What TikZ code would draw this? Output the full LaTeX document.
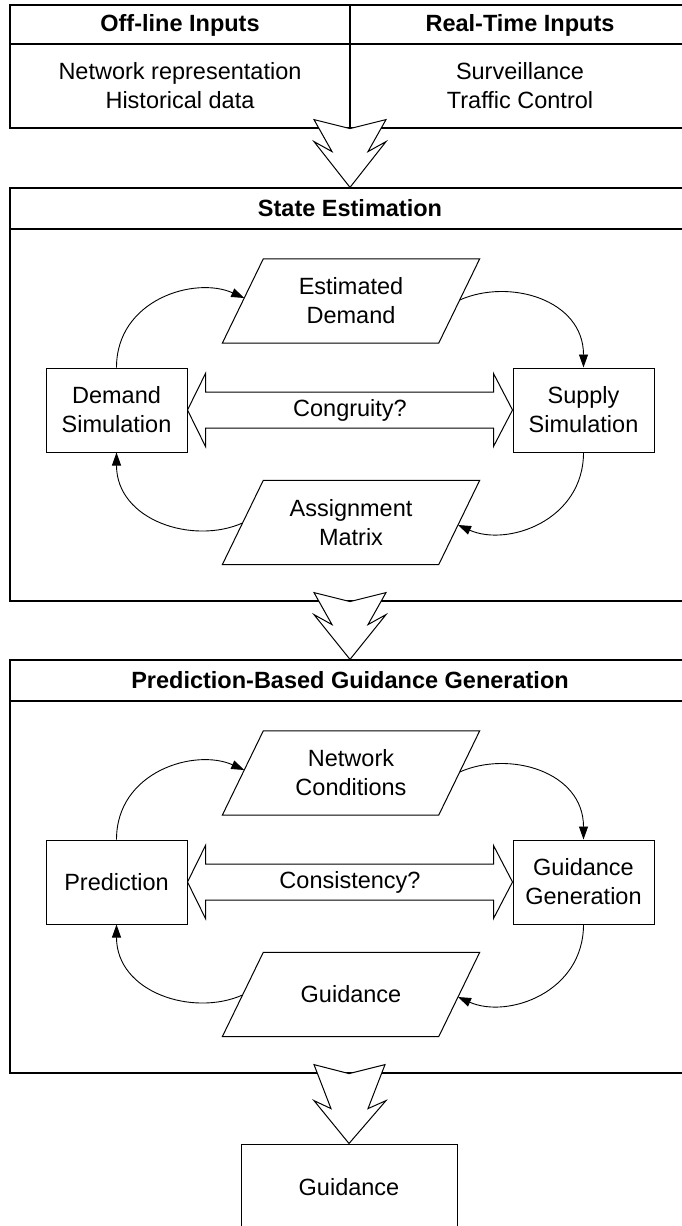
\documentclass[tikz,border=0pt]{standalone}
\usepackage{fontspec}
\setmainfont{Liberation Sans}
\usetikzlibrary{arrows.meta,calc}
\begin{document}
\begin{tikzpicture}[x=1pt,y=-1pt,
 every node/.style={font=\fontsize{23.5}{29}\selectfont, inner sep=0pt, align=center},
 hfont/.style={font=\fontsize{23.5}{29}\selectfont\bfseries},
 frame/.style={draw, line width=1.2pt},
 sepline/.style={line width=2pt},
 proc/.style={draw, line width=1pt, minimum width=141pt, minimum height=84pt},
 databox/.style={minimum width=216pt, minimum height=84pt},
 para/.style={draw, line width=1pt, line join=miter},
 loopar/.style={line width=0.9pt, -{Triangle[length=13pt,width=9pt]}},
 block/.style={draw, fill=white, line width=1pt, line join=miter},
]
\useasboundingbox (0,0) rectangle (681,1226);

% ---------- inputs ----------
\node[frame, minimum width=680pt, minimum height=123pt] (inputs) at (350,66.5) {};
\draw[line width=1.2pt] (inputs.north) -- (inputs.south);
\draw[line width=1.4pt] (10,44) -- (690,44);
\node[hfont] (offh) at (180,25) {Off-line Inputs};
\node[hfont] (rth) at (520,25) {Real-Time Inputs};
\node (offb) at (180,86) {Network representation\\Historical data};
\node (rtb) at (520,86) {Surveillance\\Traffic Control};

% ---------- state estimation ----------
\node[frame, minimum width=680pt, minimum height=413pt] (se) at (350,394.5) {};
\draw[sepline] (10,229) -- (690,229);
\node[hfont] (seh) at (350,208) {State Estimation};
\node[proc] (dem) at (116.5,410) {Demand\\Simulation};
\node[proc] (sup) at (583.5,410) {Supply\\Simulation};
\node[databox] (ed) at (351,301) {Estimated\\Demand};
\node[databox] (am) at (351,522.5) {Assignment\\Matrix};
\draw[para] ($(ed.south west)+(-20.5,0)$) -- ($(ed.south east)+(-20.5,0)$) -- ($(ed.north east)+(20.5,0)$) -- ($(ed.north west)+(20.5,0)$) -- cycle;
\draw[para] ($(am.south west)+(-20.5,0)$) -- ($(am.south east)+(-20.5,0)$) -- ($(am.north east)+(20.5,0)$) -- ($(am.north west)+(20.5,0)$) -- cycle;
\draw[para] (dem.east) -- ($(dem.east)+(18,-36.5)$) -- ($(dem.east)+(18,-18)$) -- ($(sup.west)+(-19,-18)$) -- ($(sup.west)+(-19,-36.5)$) -- (sup.west) -- ($(sup.west)+(-19,36.5)$) -- ($(sup.west)+(-19,18)$) -- ($(dem.east)+(18,18)$) -- ($(dem.east)+(18,36.5)$) -- cycle;
\node (cong) at (350,410) {Congruity?};
\coordinate (edin) at ($(ed.west)+(1.5,-3)$);
\coordinate (edout) at ($(ed.east)+(0.5,-1)$);
\coordinate (amin) at ($(am.east)+(-1.2,2.5)$);
\coordinate (amout) at ($(am.west)+(-0.3,0.5)$);
\draw[loopar] (dem.north) .. controls +(0,-68) and +(-49.5,-22) .. (edin);
\draw[loopar] (edout) .. controls +(49.5,-22) and +(0,-68) .. (sup.north);
\draw[loopar] (sup.south) .. controls +(0,68) and +(49.5,22) .. (amin);
\draw[loopar] (amout) .. controls +(-49.5,22) and +(0,68) .. (dem.south);

% ---------- prediction-based guidance generation ----------
\begin{scope}[shift={(0,472)}]
\node[frame, minimum width=680pt, minimum height=413pt] (pbg) at (350,394.5) {};
\draw[sepline] (10,229) -- (690,229);
\node[hfont] (pbgh) at (350,208) {Prediction-Based Guidance Generation};
\node[proc] (pre) at (116.5,410) {Prediction};
\node[proc] (gg) at (583.5,410) {Guidance\\Generation};
\node[databox] (nc) at (351,301) {Network\\Conditions};
\node[databox] (gd) at (351,522.5) {Guidance};
\draw[para] ($(nc.south west)+(-20.5,0)$) -- ($(nc.south east)+(-20.5,0)$) -- ($(nc.north east)+(20.5,0)$) -- ($(nc.north west)+(20.5,0)$) -- cycle;
\draw[para] ($(gd.south west)+(-20.5,0)$) -- ($(gd.south east)+(-20.5,0)$) -- ($(gd.north east)+(20.5,0)$) -- ($(gd.north west)+(20.5,0)$) -- cycle;
\draw[para] (pre.east) -- ($(pre.east)+(18,-36.5)$) -- ($(pre.east)+(18,-18)$) -- ($(gg.west)+(-19,-18)$) -- ($(gg.west)+(-19,-36.5)$) -- (gg.west) -- ($(gg.west)+(-19,36.5)$) -- ($(gg.west)+(-19,18)$) -- ($(pre.east)+(18,18)$) -- ($(pre.east)+(18,36.5)$) -- cycle;
\node (cons) at (350,410) {Consistency?};
\coordinate (ncin) at ($(nc.west)+(1.5,-3)$);
\coordinate (ncout) at ($(nc.east)+(0.5,-1)$);
\coordinate (gdin) at ($(gd.east)+(-1.2,2.5)$);
\coordinate (gdout) at ($(gd.west)+(-0.3,0.5)$);
\draw[loopar] (pre.north) .. controls +(0,-68) and +(-49.5,-22) .. (ncin);
\draw[loopar] (ncout) .. controls +(49.5,-22) and +(0,-68) .. (gg.north);
\draw[loopar] (gg.south) .. controls +(0,68) and +(49.5,22) .. (gdin);
\draw[loopar] (gdout) .. controls +(-49.5,22) and +(0,68) .. (pre.south);
\end{scope}

% ---------- final ----------
\node[proc, minimum width=216pt, minimum height=86pt] (final) at (349,1187) {Guidance};

% ---------- block arrows ----------
\coordinate (n1) at (inputs.south);
\draw[block] ($(n1)+(-36,-9)$) -- (n1) -- ($(n1)+(36,-9)$) -- ($(n1)+(18,23)$) -- ($(n1)+(36,13)$) -- (se.north) -- ($(n1)+(-36,13)$) -- ($(n1)+(-18,23)$) -- cycle;
\coordinate (n2) at (se.south);
\draw[block] ($(n2)+(-36,-9)$) -- (n2) -- ($(n2)+(36,-9)$) -- ($(n2)+(18,23)$) -- ($(n2)+(36,13)$) -- (pbg.north) -- ($(n2)+(-36,13)$) -- ($(n2)+(-18,23)$) -- cycle;
\coordinate (n3) at (pbg.south -| final.north);
\draw[block] ($(n3)+(-35,-9)$) -- (n3) -- ($(n3)+(36,-9)$) -- ($(n3)+(19,35)$) -- ($(n3)+(37,27)$) -- (final.north) -- ($(n3)+(-35,27)$) -- ($(n3)+(-18,35)$) -- cycle;
\end{tikzpicture}
\end{document}
